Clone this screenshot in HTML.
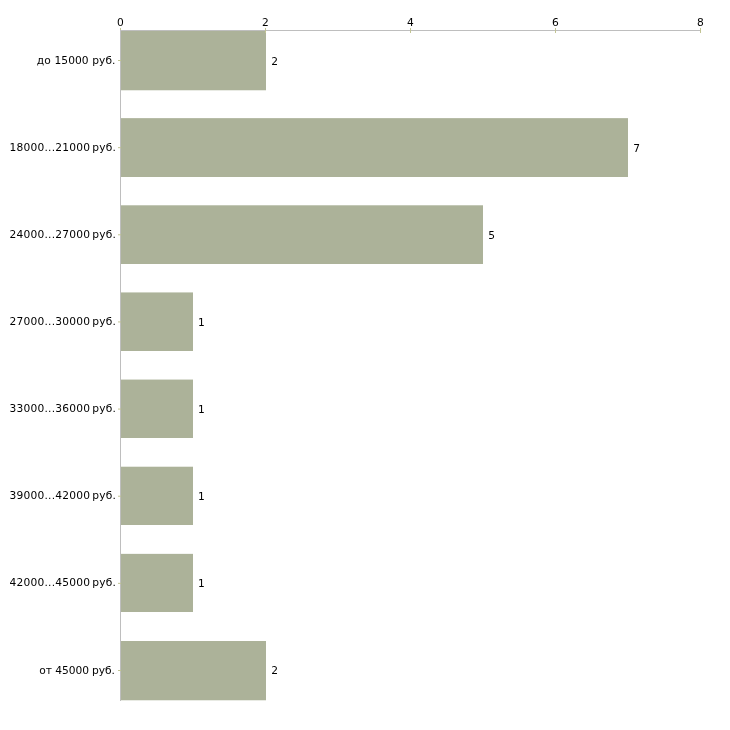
<!DOCTYPE html>
<html lang="ru"><head><meta charset="utf-8"><title>chart</title>
<style>
html,body{margin:0;padding:0;background:#fff;}
#c{position:relative;width:730px;height:730px;overflow:hidden;background:#fff;font-family:"DejaVu Sans","Liberation Sans",sans-serif;font-size:10.667px;line-height:13px;color:#000;}
#c svg{position:absolute;left:0;top:0;}
#c div{position:absolute;white-space:pre;}
.l{text-align:right;left:0;}
.x{width:40px;text-align:center;top:16px;}
</style></head><body><div id="c">
<svg width="730" height="730" viewBox="0 0 730 730">
<rect x="120" y="30" width="581" height="1" fill="#bebebe"/>
<rect x="121" y="31" width="145" height="59" fill="#acb299"/>
<rect x="121" y="90" width="145" height="1" fill="#acb299" fill-opacity="0.28"/>
<rect x="121" y="118.14" width="507" height="58.86" fill="#acb299"/>
<rect x="121" y="205.29" width="362" height="58.71" fill="#acb299"/>
<rect x="121" y="292.43" width="72" height="58.57" fill="#acb299"/>
<rect x="121" y="379.57" width="72" height="58.43" fill="#acb299"/>
<rect x="121" y="466.71" width="72" height="58.29" fill="#acb299"/>
<rect x="121" y="553.86" width="72" height="58.14" fill="#acb299"/>
<rect x="121" y="641" width="145" height="59" fill="#acb299"/>
<rect x="121" y="700" width="145" height="1" fill="#acb299" fill-opacity="0.28"/>
<rect x="120" y="28" width="1" height="5" fill="#c2c494"/>
<rect x="265" y="28" width="1" height="5" fill="#c2c494"/>
<rect x="410" y="28" width="1" height="5" fill="#c2c494"/>
<rect x="555" y="28" width="1" height="5" fill="#c2c494"/>
<rect x="700" y="28" width="1" height="5" fill="#c2c494"/>
<rect x="120" y="30" width="1" height="671" fill="#bebebe"/>
<rect x="118" y="60.00" width="3" height="1" fill="#c2c494"/>
<rect x="118" y="147.14" width="3" height="1" fill="#c2c494"/>
<rect x="118" y="234.29" width="3" height="1" fill="#c2c494"/>
<rect x="118" y="321.43" width="3" height="1" fill="#c2c494"/>
<rect x="118" y="408.57" width="3" height="1" fill="#c2c494"/>
<rect x="118" y="495.71" width="3" height="1" fill="#c2c494"/>
<rect x="118" y="582.86" width="3" height="1" fill="#c2c494"/>
<rect x="118" y="670.00" width="3" height="1" fill="#c2c494"/>
</svg>
<div class="l" style="top:54px;width:115.53px;letter-spacing:0.05px;word-spacing:0.2px">до 15000 руб.</div>
<div style="left:271.20px;top:55px">2</div>
<div class="l" style="top:141px;width:116.13px;letter-spacing:0.23px;word-spacing:-1.8px">18000...21000 руб.</div>
<div style="left:633.20px;top:142px">7</div>
<div class="l" style="top:228px;width:116.13px;letter-spacing:0.23px;word-spacing:-1.8px">24000...27000 руб.</div>
<div style="left:488.20px;top:229px">5</div>
<div class="l" style="top:315px;width:116.13px;letter-spacing:0.23px;word-spacing:-1.8px">27000...30000 руб.</div>
<div style="left:198.00px;top:316px">1</div>
<div class="l" style="top:402px;width:116.13px;letter-spacing:0.23px;word-spacing:-1.8px">33000...36000 руб.</div>
<div style="left:198.00px;top:403px">1</div>
<div class="l" style="top:489px;width:116.13px;letter-spacing:0.23px;word-spacing:-1.8px">39000...42000 руб.</div>
<div style="left:198.00px;top:490px">1</div>
<div class="l" style="top:576px;width:116.13px;letter-spacing:0.23px;word-spacing:-1.8px">42000...45000 руб.</div>
<div style="left:198.00px;top:577px">1</div>
<div class="l" style="top:664px;width:114.98px;letter-spacing:-0.04px;word-spacing:-0.15px">от 45000 руб.</div>
<div style="left:271.20px;top:664px">2</div>
<div class="x" style="left:100.5px">0</div>
<div class="x" style="left:245.5px">2</div>
<div class="x" style="left:390.5px">4</div>
<div class="x" style="left:535.5px">6</div>
<div class="x" style="left:680.5px">8</div>
</div></body></html>
